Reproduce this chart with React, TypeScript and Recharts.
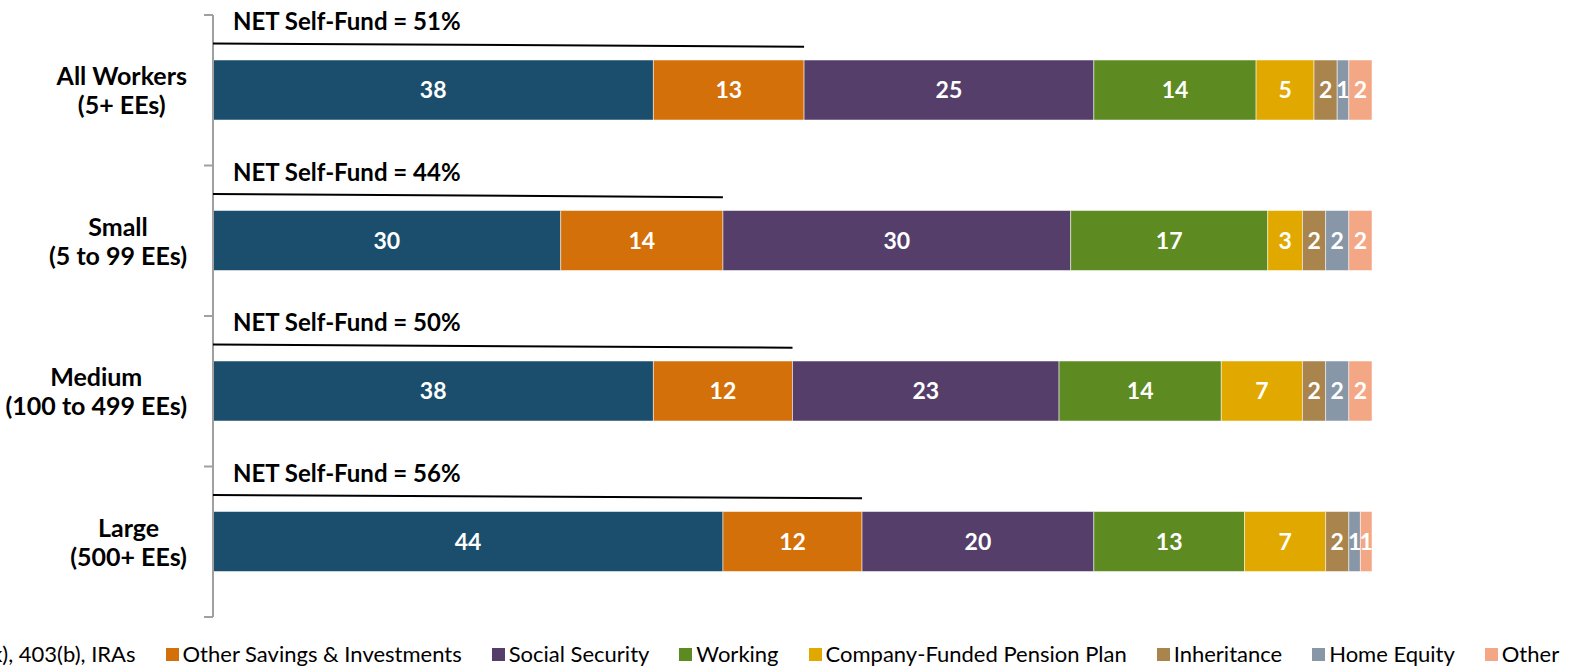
import React from "react";
import { Bar, BarChart, LabelList, XAxis, YAxis } from "recharts";

const categories = ["All Workers", "Small", "Medium", "Large"];
const categorySizes = ["(5+ EEs)", "(5 to 99 EEs)", "(100 to 499 EEs)", "(500+ EEs)"];

const retirementAccounts = [38, 30, 38, 44];
const otherSavings = [13, 14, 12, 12];
const socialSecurity = [25, 30, 23, 20];
const working = [14, 17, 14, 13];
const pension = [5, 3, 7, 7];
const inheritance = [2, 2, 2, 2];
const homeEquity = [1, 2, 2, 1];
const other = [2, 2, 2, 1];
const netSelfFund = [51, 44, 50, 56];

const seriesNames = [
  "401(k), 403(b), IRAs",
  "Other Savings & Investments",
  "Social Security",
  "Working",
  "Company-Funded Pension Plan",
  "Inheritance",
  "Home Equity",
  "Other",
];
const seriesKeys = ["accounts", "savings", "social", "working", "pension", "inheritance", "home", "other"];
const seriesColors = ["#1b4e6d", "#d4700a", "#553f6a", "#5e8a22", "#e1a900", "#a9844d", "#8797a8", "#f4a784"];

const rows = categories.map((name, i) => ({
  name,
  size: categorySizes[i],
  net: netSelfFund[i],
  accounts: retirementAccounts[i],
  savings: otherSavings[i],
  social: socialSecurity[i],
  working: working[i],
  pension: pension[i],
  inheritance: inheritance[i],
  home: homeEquity[i],
  other: other[i],
}));

const FONT = "Lato, 'Open Sans', sans-serif";

function CategoryTick(props: any) {
  const { x, y, payload, index } = props;
  const half = payload?.offset ?? 75;
  const row = rows[index];
  return (
    <g>
      <line x1={x - 9} x2={x} y1={y - half} y2={y - half} stroke="#a0a0a0" strokeWidth={2} />
      {index === rows.length - 1 && (
        <line x1={x - 9} x2={x} y1={y + half} y2={y + half} stroke="#a0a0a0" strokeWidth={2} />
      )}
      <foreignObject x={x - 226} y={y - 40} width={200} height={80}>
        <div style={{ display: "flex", justifyContent: "flex-end", alignItems: "center", height: "100%" }}>
          <div style={{ textAlign: "center", fontFamily: FONT, fontWeight: 700, fontSize: 25, lineHeight: "29px", color: "#000", whiteSpace: "nowrap" }}>
            {row.name}
            <br />
            {row.size}
          </div>
        </div>
      </foreignObject>
    </g>
  );
}

function NetLabel(props: any) {
  const { x, y, width, value, index } = props;
  const base = rows[index].accounts;
  const end = x + (value * width) / base;
  return (
    <g>
      <line x1={x} y1={y - 16.5} x2={end} y2={y - 13.3} stroke="#000" strokeWidth={2} />
      <text x={x + 20} y={y - 30} fontFamily={FONT} fontWeight={700} fontSize={24} fill="#000">
        {`NET Self-Fund = ${value}%`}
      </text>
    </g>
  );
}

export default function App() {
  return (
    <div style={{ position: "absolute", left: 0, top: 0, width: 1574, height: 666, overflow: "hidden", background: "#fff" }}>
      <BarChart layout="vertical" width={1574} height={666} data={rows} barSize={60} margin={{ top: 15, right: 202, bottom: 49, left: 0 }}>
        <XAxis type="number" domain={[0, 100]} hide />
        <YAxis
          type="category"
          dataKey="name"
          width={213}
          axisLine={{ stroke: "#a0a0a0", strokeWidth: 2 }}
          tickLine={false}
          tickSize={0}
          tickMargin={0}
          tick={<CategoryTick />}
        />
        {seriesKeys.map((key, i) => (
          <Bar key={key} dataKey={key} name={seriesNames[i]} stackId="a" fill={seriesColors[i]} stroke="#ffffff" strokeOpacity={0.5} strokeWidth={1} isAnimationActive={false}>
            <LabelList dataKey={key} position="center" fill="#fff" fontFamily={FONT} fontWeight={700} fontSize={23} />
            {i === 0 && <LabelList dataKey="net" content={<NetLabel />} />}
          </Bar>
        ))}
      </BarChart>
      <div style={{ position: "absolute", top: 643, left: -70, height: 22, display: "flex", alignItems: "center", whiteSpace: "nowrap", fontFamily: FONT, fontSize: 22, lineHeight: "22px", color: "#000" }}>
        {seriesNames.map((name, i) => (
          <div key={name} style={{ display: "flex", alignItems: "center", marginRight: 30 }}>
            <span style={{ display: "inline-block", width: 13, height: 13, background: seriesColors[i], marginRight: 4 }} />
            <span>{name}</span>
          </div>
        ))}
      </div>
    </div>
  );
}
